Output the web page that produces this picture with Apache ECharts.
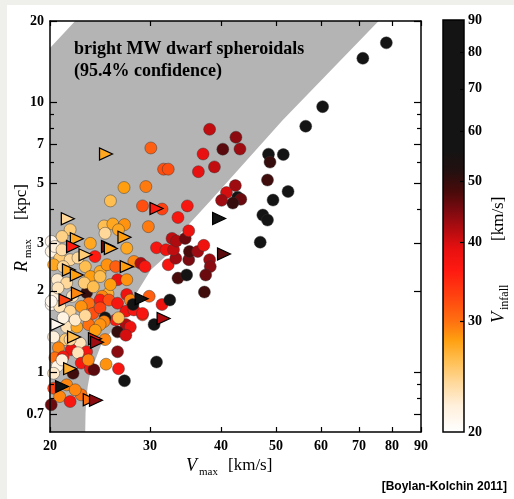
<!DOCTYPE html>
<html>
<head>
<meta charset="utf-8">
<script src="https://cdn.jsdelivr.net/npm/echarts@6/dist/echarts.min.js"></script>
<style>
html, body { margin: 0; padding: 0; background: #ffffff; }
#chart { width: 514px; height: 499px; }
</style>
</head>
<body>
<div id="chart"></div>
<script>
// Subhaloes drawn as circles: Vmax [km/s], Rmax [kpc], Vinfall [km/s]
const circVmax = [78.2,71.1,60.4,56.4,48.5,51.5,48.8,48.3,52.5,49.4,47.4,48.3,46.9,
  38.2,42.5,40.3,43.2,37.2,38.95,36.5,42.4,40.9,40.1,42.8,43.35,41.97,
  30.1,31.7,32.3,27.0,29.5,25.55,29.1,31.5,34.9,33.6,24.9,25.8,27.05,29.8,26.4,21.7,21.0,20.1,20.1,
  23.55,27.3,24.0,25.0,20.4,20.8,21.7,20.3,21.1,23.07,24.5,25.2,26.1,28.1,28.9,29.4,
  23.55,24.5,26.3,27.3,20.6,21.4,23.2,25.3,24.7,27.3,29.9,20.4,21.9,23.4,24.5,25.4,27.7,
  20.1,20.8,21.7,22.7,23.8,24.5,26.3,27.2,26.1,27.2,26.3,25.0,24.9,21.4,22.3,23.4,24.5,
  20.3,21.3,22.6,25.0,23.2,21.8,20.7,20.4,21.1,22.4,20.6,20.3,21.96,22.7,23.55,23.9,25.1,26.3,26.4,27.05,
  21.4,20.3,20.8,21.7,22.7,20.1,30.5,30.8,27.7,27.2,29.1,28.1,29.1,31.5,28.0,32.5,
  32.3,33.6,34.8,33.3,35.1,30.8,32.0,33.0,35.2,36.4,32.8,33.4,34.6,35.1,37.3,38.2,38.3,37.6,37.4,
  20.1,20.66,21.0,22.4,22.98,23.84,22.15,23.07,21.09,24.03,21.7,23.36,21.0,22.15,25.55,26.4];
const circRmax = [16.6,14.55,9.63,8.15,6.42,6.40,6.0,5.15,4.67,4.34,3.82,3.66,3.03,
  7.94,7.42,6.70,6.71,6.43,5.76,5.53,4.91,4.63,4.33,4.45,4.37,4.23,
  6.77,5.65,5.65,4.83,4.87,4.31,4.13,4.02,4.13,3.74,3.48,3.54,3.52,3.46,3.37,3.37,3.18,3.05,2.80,
  3.00,2.88,2.68,3.27,2.92,2.64,2.61,2.50,2.46,2.46,2.36,2.50,2.46,2.57,2.53,2.46,
  2.26,2.26,2.20,2.20,2.20,2.14,1.97,1.95,1.91,1.94,1.91,1.91,1.91,1.80,1.85,1.85,1.85,
  1.78,1.75,1.68,1.75,1.65,1.73,1.80,1.68,1.56,1.50,1.41,1.59,1.54,1.47,1.47,1.50,1.50,
  1.35,1.32,1.28,1.32,1.19,1.21,1.23,1.13,1.14,1.18,1.05,0.99,0.99,1.08,1.03,1.02,1.07,1.19,1.03,0.929,
  0.897,0.872,0.812,0.778,0.824,0.757,1.50,1.09,1.47,1.37,1.63,1.70,1.65,1.78,1.78,1.85,
  2.50,2.23,2.29,2.64,2.61,2.89,2.84,2.84,2.80,2.80,3.13,3.06,3.13,3.34,2.95,2.61,2.46,2.29,1.98,
  1.83,2.05,2.84,2.65,2.14,2.07,1.56,1.62,1.59,1.43,1.32,1.11,1.11,0.86,2.11,1.59];
const circVinfall = [85,80,75,70,65,65,50,49,62,60,60,60,60,
  41,44,47,43,39,41,39,43,40,43,60,46,50,
  31,32,32,28,29.5,26,32,33,37,37,26,27.5,28.5,29.5,27.5,25,24.5,21,21.5,
  27.5,27.5,36,24,22,25,24,27.5,24,26,27.5,28.5,31,29,42,37,
  28,26,38,28.5,22.5,24,50,27,29,38,31,22,23,30,36,32,29,
  21,23,24,28.5,32,33,37,38,36,42,50,60,29,23,27.5,30,28.5,
  22,25,23,29,37,38,29,30,37,23,21.5,22.5,49,37,37,47,28.5,44,37,60,
  29,33,29,37,30,46,60,60,38,40,34,37,37,38,60,60,
  37,48,60,43,45,37,38,41,48,43,41,42,46,38,38,43,44,46,49,
  21,23,23.5,24,25,26,22.5,24,21.5,28,24,29,22,29,28,26];

// Subhaloes drawn as right-pointing triangles
const triVmax = [25.1,30.8,21.5,22.3,21.96,23.1,25.3,25.6,27.05,27.3,21.6,22.3,22.4,21.3,
  20.6,22.05,24.0,24.2,21.7,21.0,23.5,24.1,29.0,31.7,39.7,40.5];
const triRmax = [6.43,4.04,3.70,3.12,2.92,2.72,2.92,2.87,3.16,2.46,2.39,2.29,1.96,1.85,
  1.50,1.35,1.33,1.29,1.03,0.884,0.79,0.786,1.87,1.58,3.71,2.74];
const triVinfall = [27.5,36,24,27.5,36,25,46,27.5,28,28,27.5,28,29,33,
  21,26,37,43,27,60,30,44,60,42,60,47];

// Outline of the shaded confidence region (Vmax, Rmax)
const bandVmax = [20, 20, 22.15, 75.8, 51.4, 38.47, 34.0, 32.66, 30.09, 28.0, 26.6, 25.55, 24.6, 24.03, 23.55, 23.3, 23.17, 23.1, 23.07];
const bandRmax = [0.6, 15.9, 20, 20, 8.60, 4.35, 3.28, 2.80, 2.39, 1.87, 1.63, 1.40, 1.26, 1.11, 1.0, 0.882, 0.79, 0.707, 0.6];

// Tick values
const xTicks = [20, 30, 40, 50, 60, 70, 80, 90];
const yMajorTicks = [0.7, 1, 2, 3, 5, 7, 10, 20];
const yMinorTicks = [0.8, 0.9, 4, 6, 8, 9];
const cbarLabels = [20, 30, 40, 50, 60, 70, 80, 90];
const cbarTicks = [30, 40, 50, 60, 70, 80];

// Colour scale for Vinfall (white -> orange -> red -> black)
const cmapStops = [20, 22, 24, 26, 28, 30, 33, 36, 39, 42, 45, 48, 52, 56, 90];
const cmapColors = ['#ffffff', '#fff0dc', '#ffd89a', '#ffbe50', '#ff9f10', '#ff7010', '#ff4010',
  '#ff1a10', '#e81010', '#b00c10', '#7a0a10', '#4a0a0a', '#221010', '#141414', '#141414'];

const L = Math.log10;
const X0 = L(20), X1 = L(90), Y0 = L(0.6), Y1 = L(20);
const C0 = L(20), C1 = L(90);

function hexRgb(h) {
  return [parseInt(h.slice(1, 3), 16), parseInt(h.slice(3, 5), 16), parseInt(h.slice(5, 7), 16)];
}
function colorFor(v) {
  v = Math.max(cmapStops[0], Math.min(cmapStops[cmapStops.length - 1], v));
  let i = 0;
  while (i < cmapStops.length - 2 && v > cmapStops[i + 1]) i++;
  const t = (L(v) - L(cmapStops[i])) / (L(cmapStops[i + 1]) - L(cmapStops[i]));
  const a = hexRgb(cmapColors[i]), b = hexRgb(cmapColors[i + 1]);
  const c = a.map((x, k) => Math.round(x + (b[k] - x) * t));
  return 'rgb(' + c.join(',') + ')';
}

const serif = "'Liberation Serif', 'Times New Roman', serif";
const tickFmt = v => {
  const x = Math.pow(10, v);
  return x < 1 ? x.toFixed(1) : String(Math.round(x));
};
const axisLineStyle = { show: true, onZero: false, lineStyle: { color: '#000', width: 1.5 } };
const noLine = { show: false, onZero: false };
const labelStyle = { color: '#000', fontFamily: serif, fontWeight: 'bold', fontSize: 14 };
const tickLine = { color: '#000', width: 1.2 };

const circleData = circVmax.map((v, i) => [L(v), L(circRmax[i]), circVinfall[i]]);
const triData = triVmax.map((v, i) => [L(v), L(triRmax[i]), triVinfall[i]]);
const bandPts = bandVmax.map((v, i) => [L(v), L(bandRmax[i])]);

const gradStops = cmapStops.map((s, i) => ({ offset: (L(s) - C0) / (C1 - C0), color: cmapColors[i] }));

const chart = echarts.init(document.getElementById('chart'), null, { renderer: 'canvas' });

chart.setOption({
  animation: false,
  backgroundColor: '#ffffff',
  grid: [
    { left: 50, top: 21, width: 371, height: 411 },
    { left: 443, top: 20, width: 21, height: 412 }
  ],
  xAxis: [
    {
      gridIndex: 0, type: 'value', min: X0, max: X1, position: 'bottom', z: 10,
      axisLine: axisLineStyle,
      axisTick: { show: true, inside: true, length: 5, customValues: xTicks.map(L), lineStyle: tickLine },
      axisLabel: Object.assign({ customValues: xTicks.map(L), formatter: tickFmt, margin: 7 }, labelStyle),
      splitLine: { show: false }
    },
    {
      gridIndex: 0, type: 'value', min: X0, max: X1, position: 'top', z: 10,
      axisLine: axisLineStyle,
      axisTick: { show: true, inside: true, length: 5, customValues: xTicks.map(L), lineStyle: tickLine },
      axisLabel: { show: false },
      splitLine: { show: false }
    },
    { gridIndex: 1, type: 'value', min: 0, max: 1, show: false }
  ],
  yAxis: [
    {
      gridIndex: 0, type: 'value', min: Y0, max: Y1, position: 'left', z: 10,
      axisLine: axisLineStyle,
      axisTick: { show: true, inside: true, length: 7, customValues: yMajorTicks.map(L), lineStyle: tickLine },
      axisLabel: Object.assign({ customValues: yMajorTicks.map(L), formatter: tickFmt, margin: 6 }, labelStyle),
      splitLine: { show: false }
    },
    {
      gridIndex: 0, type: 'value', min: Y0, max: Y1, position: 'left', z: 10,
      axisLine: noLine,
      axisTick: { show: true, inside: true, length: 4, customValues: yMinorTicks.map(L), lineStyle: tickLine },
      axisLabel: { show: false },
      splitLine: { show: false }
    },
    {
      gridIndex: 0, type: 'value', min: Y0, max: Y1, position: 'right', z: 10,
      axisLine: axisLineStyle,
      axisTick: { show: true, inside: true, length: 7, customValues: yMajorTicks.map(L), lineStyle: tickLine },
      axisLabel: { show: false },
      splitLine: { show: false }
    },
    {
      gridIndex: 0, type: 'value', min: Y0, max: Y1, position: 'right', z: 10,
      axisLine: noLine,
      axisTick: { show: true, inside: true, length: 4, customValues: yMinorTicks.map(L), lineStyle: tickLine },
      axisLabel: { show: false },
      splitLine: { show: false }
    },
    {
      gridIndex: 1, type: 'value', min: C0, max: C1, position: 'right', z: 10,
      axisLine: noLine,
      axisTick: { show: true, inside: true, length: 4, customValues: cbarTicks.map(L), lineStyle: tickLine },
      axisLabel: Object.assign({ customValues: cbarLabels.map(L), formatter: tickFmt, margin: 4 }, labelStyle),
      splitLine: { show: false }
    }
  ],
  series: [
    {
      // shaded confidence region
      type: 'custom', xAxisIndex: 0, yAxisIndex: 0, z: 1, silent: true, clip: true,
      data: [[X0, Y0]],
      renderItem: (params, api) => ({
        type: 'polygon',
        shape: { points: bandPts.map(p => api.coord(p)) },
        style: { fill: '#b4b4b4' }
      })
    },
    {
      type: 'scatter', xAxisIndex: 0, yAxisIndex: 0, z: 3, silent: true,
      symbol: 'circle', symbolSize: 12,
      data: circleData,
      itemStyle: {
        color: p => colorFor(p.data[2]),
        borderColor: 'rgba(50,50,50,0.55)', borderWidth: 0.8, opacity: 1
      }
    },
    {
      type: 'scatter', xAxisIndex: 0, yAxisIndex: 0, z: 4, silent: true,
      symbol: 'triangle', symbolSize: [12, 13], symbolRotate: -90,
      data: triData,
      itemStyle: {
        color: p => colorFor(p.data[2]),
        borderColor: '#000', borderWidth: 1.2, opacity: 1
      }
    },
    {
      // colour bar
      type: 'custom', xAxisIndex: 2, yAxisIndex: 4, z: 2, silent: true,
      data: [[0, C0]],
      renderItem: (params, api) => {
        const p0 = api.coord([0, C0]);
        const p1 = api.coord([1, C1]);
        const shape = { x: p0[0], y: p1[1], width: p1[0] - p0[0], height: p0[1] - p1[1] };
        return {
          type: 'group',
          children: [
            { type: 'rect', shape: shape, style: { fill: new echarts.graphic.LinearGradient(0, 1, 0, 0, gradStops) } },
            { type: 'rect', shape: shape, style: { fill: 'none', stroke: '#000', lineWidth: 1.5 } }
          ]
        };
      }
    }
  ],
  graphic: [
    { type: 'rect', left: 0, top: 0, shape: { width: 514, height: 5 }, style: { fill: '#efefeb' }, silent: true },
    { type: 'rect', left: 0, top: 0, shape: { width: 7, height: 499 }, style: { fill: '#efefeb' }, silent: true },
    {
      type: 'text', x: 74, y: 38, z: 20,
      style: {
        text: 'bright MW dwarf spheroidals\n(95.4% confidence)',
        font: "bold 18px 'Liberation Serif'", fill: '#000', lineHeight: 22
      }
    },
    // x-axis title
    { type: 'text', x: 186, y: 466, style: { text: 'V', font: "italic 18px 'Liberation Serif'", fill: '#000', textVerticalAlign: 'middle' } },
    { type: 'text', x: 199, y: 472, style: { text: 'max', font: "11px 'Liberation Serif'", fill: '#000', textVerticalAlign: 'middle' } },
    { type: 'text', x: 228, y: 466, style: { text: '[km/s]', font: "17px 'Liberation Serif'", fill: '#000', textVerticalAlign: 'middle' } },
    // y-axis title
    {
      type: 'group', x: 22, y: 228, rotation: Math.PI / 2,
      children: [
        { type: 'text', x: -44, y: 0, style: { text: 'R', font: "italic 18px 'Liberation Serif'", fill: '#000', textVerticalAlign: 'middle' } },
        { type: 'text', x: -30, y: 6, style: { text: 'max', font: "11px 'Liberation Serif'", fill: '#000', textVerticalAlign: 'middle' } },
        { type: 'text', x: 8, y: 0, style: { text: '[kpc]', font: "17px 'Liberation Serif'", fill: '#000', textVerticalAlign: 'middle' } }
      ]
    },
    // colour bar title
    {
      type: 'group', x: 499, y: 253, rotation: Math.PI / 2,
      children: [
        { type: 'text', x: -70, y: 0, style: { text: 'V', font: "italic 18px 'Liberation Serif'", fill: '#000', textVerticalAlign: 'middle' } },
        { type: 'text', x: -57, y: 6, style: { text: 'infall', font: "12px 'Liberation Serif'", fill: '#000', textVerticalAlign: 'middle' } },
        { type: 'text', x: 12, y: 0, style: { text: '[km/s]', font: "17px 'Liberation Serif'", fill: '#000', textVerticalAlign: 'middle' } }
      ]
    },
    {
      type: 'text', x: 507, y: 487,
      style: { text: '[Boylan-Kolchin 2011]', font: "bold 12px 'Liberation Sans'", fill: '#000', textAlign: 'right', textVerticalAlign: 'middle' }
    }
  ]
});
</script>
</body>
</html>
